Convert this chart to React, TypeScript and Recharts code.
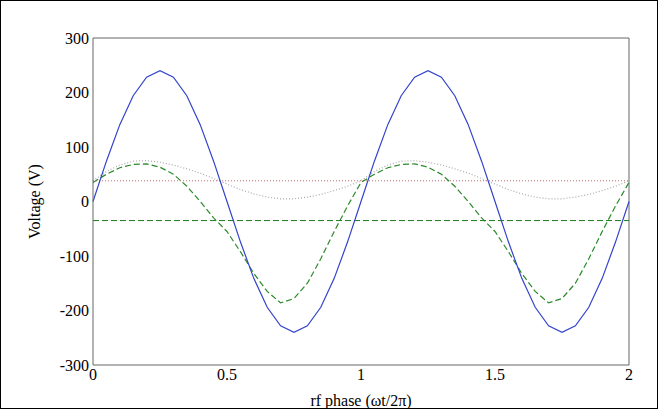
import { LineChart, Line, XAxis, YAxis, ReferenceLine } from 'recharts';

const phase = [0, 0.05, 0.1, 0.15, 0.2, 0.25, 0.3, 0.35, 0.4, 0.45, 0.5, 0.55, 0.6, 0.65, 0.7, 0.75, 0.8, 0.85, 0.9, 0.95,
  1, 1.05, 1.1, 1.15, 1.2, 1.25, 1.3, 1.35, 1.4, 1.45, 1.5, 1.55, 1.6, 1.65, 1.7, 1.75, 1.8, 1.85, 1.9, 1.95, 2];
const rfVoltage = [0, 74, 141, 194, 228, 240, 228, 194, 141, 74, 0, -74, -141, -194, -228, -240, -228, -194, -141, -74,
  0, 74, 141, 194, 228, 240, 228, 194, 141, 74, 0, -74, -141, -194, -228, -240, -228, -194, -141, -74, 0];
const plasmaPotential = [35, 50, 62, 68, 69, 63, 50, 28, 0, -30, -55, -92, -132, -165, -186, -178, -150, -105, -55, -8,
  35, 50, 62, 68, 69, 63, 50, 28, 0, -30, -55, -92, -132, -165, -186, -178, -150, -105, -55, -8, 35];
const sheathVoltage = [38, 55, 67, 74, 75, 72, 67, 60, 52, 42, 32, 22, 14, 8, 5, 5, 8, 13, 20, 28,
  38, 55, 67, 74, 75, 72, 67, 60, 52, 42, 32, 22, 14, 8, 5, 5, 8, 13, 20, 28, 38];
const meanSheath = 38;
const selfBias = -35;
const xTicks = [0, 0.5, 1, 1.5, 2];
const yTicks = [-300, -200, -100, 0, 100, 200, 300];

const data = phase.map((p, i) => ({
  phase: p,
  rf: rfVoltage[i],
  plasma: plasmaPotential[i],
  sheath: sheathVoltage[i],
}));

const font = { fontFamily: 'Liberation Serif', fontSize: 16, fill: '#000' };

export default function App() {
  return (
    <div style={{ position: 'absolute', left: 0, top: 0, width: 658, height: 409, overflow: 'hidden', background: '#fff' }}>
      <div style={{ position: 'absolute', inset: 0, border: '1px solid #000', boxSizing: 'border-box', pointerEvents: 'none', zIndex: 2 }} />
      <LineChart width={658} height={409} data={data} margin={{ top: 38, right: 29, bottom: 0, left: 32 }}>
        <XAxis dataKey="phase" type="number" domain={[0, 2]} ticks={xTicks} height={44} tickSize={0}
          tick={font} stroke="#666" tickMargin={4}
          label={{ value: 'rf phase (ωt/2π)', position: 'insideBottom', offset: 3, style: font }} />
        <YAxis type="number" domain={[-300, 300]} ticks={yTicks} width={61} tickSize={0} tick={font}
          stroke="#666" tickMargin={4}
          label={{ value: 'Voltage (V)', angle: -90, position: 'insideLeft', offset: 2, style: { ...font, textAnchor: 'middle' } }} />
        <ReferenceLine y={300} stroke="#666" />
        <ReferenceLine x={2} stroke="#666" />
        <ReferenceLine y={meanSheath} stroke="#c07070" strokeDasharray="1 2" />
        <ReferenceLine y={selfBias} stroke="#1a7a1a" strokeDasharray="6 3" />
        <Line dataKey="sheath" stroke="#a8a8a8" strokeWidth={1.2} strokeDasharray="1 2" dot={false} isAnimationActive={false} />
        <Line dataKey="plasma" stroke="#2a8a2a" strokeWidth={1.2} strokeDasharray="6 3" dot={false} isAnimationActive={false} />
        <Line dataKey="rf" stroke="#3344cc" strokeWidth={1.2} dot={false} isAnimationActive={false} />
      </LineChart>
    </div>
  );
}
